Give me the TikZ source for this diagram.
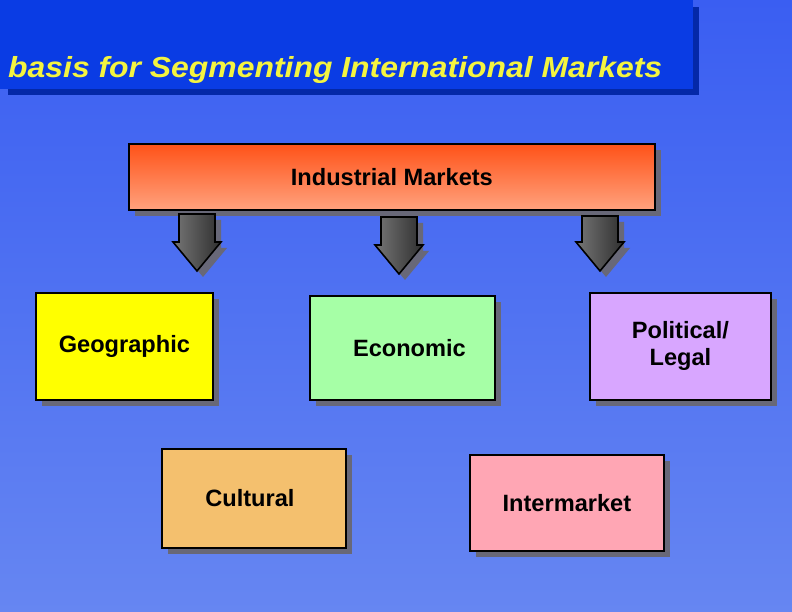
\documentclass[tikz,border=0pt]{standalone}
\usepackage{fontspec}
\setmainfont{Liberation Sans}
\usetikzlibrary{shadows}
\definecolor{bgtop}{HTML}{3A5EF2}
\definecolor{bgbot}{HTML}{6686F2}
\definecolor{barc}{HTML}{0A3CE4}
\definecolor{barshadow}{HTML}{0428A8}
\definecolor{shadowc}{HTML}{686878}
\definecolor{titley}{HTML}{F4F440}
\definecolor{orangetop}{HTML}{FF5218}
\definecolor{orangebot}{HTML}{FFA27E}
\definecolor{geoc}{HTML}{FFFF00}
\definecolor{ecoc}{HTML}{A6FFA6}
\definecolor{polc}{HTML}{D8A6FF}
\definecolor{culc}{HTML}{F4C06E}
\definecolor{interc}{HTML}{FFA6B4}
\definecolor{arrlight}{HTML}{767676}
\definecolor{arrdark}{HTML}{2E2E2E}
\tikzset{
  catbox/.style={draw=black, line width=1.8pt, inner sep=0pt, anchor=north west,
    font=\fontsize{23.6}{27}\selectfont\bfseries, align=center,
    general shadow={fill=shadowc, shadow xshift=6pt, shadow yshift=-6pt}},
  blockarr/.style={draw=black, line width=1.6pt, line join=miter,
    left color=arrlight, right color=arrdark,
    general shadow={fill=shadowc, shadow xshift=6pt, shadow yshift=-6pt}}
}
\newcommand\blockarrow[4]{% center x, top y, head y, tip y
  \path[blockarr] (#1-18,#2) -- (#1+18,#2) -- (#1+18,#3) -- (#1+24,#3) -- (#1,#4)
    -- (#1-24,#3) -- (#1-18,#3) -- cycle;}
\begin{document}
\begin{tikzpicture}[x=1pt,y=-1pt]
\useasboundingbox (0,0) rectangle (792,612);
\shade[top color=bgtop, bottom color=bgbot] (0,0) rectangle (792,612);
% title bar
\fill[barshadow] (8,7) rectangle (699,95);
\fill[barc] (0,0) rectangle (693,89);
\node[anchor=base west, inner sep=0pt, text=titley,
  font=\fontsize{29}{34}\selectfont\bfseries\itshape] (title) at (8,78)
  {\resizebox{654pt}{!}{\scalebox{1}[0.91]{basis for Segmenting International Markets}}};
% industrial markets
\node[catbox, top color=orangetop, bottom color=orangebot,
  minimum width=526pt, minimum height=66pt] (ind) at (128,143) {Industrial Markets};
% arrows
\blockarrow{197}{214}{242}{271}
\blockarrow{399}{217}{245}{274}
\blockarrow{600}{216}{242}{271}
% categories
\node[catbox, fill=geoc, minimum width=177pt, minimum height=107pt] (geo) at (35,292) {Geographic};
\node[catbox, fill=ecoc, minimum width=185pt, minimum height=104pt] (eco) at (309,295) {\kern14pt Economic};
\node[catbox, fill=polc, minimum width=181pt, minimum height=107pt] (pol) at (589,292) {Political/\\Legal};
\node[catbox, fill=culc, minimum width=184pt, minimum height=99pt] (cul) at (161,448) {Cultural\kern8pt};
\node[catbox, fill=interc, minimum width=194pt, minimum height=96pt] (int) at (469,454) {Intermarket};
\end{tikzpicture}
\end{document}
